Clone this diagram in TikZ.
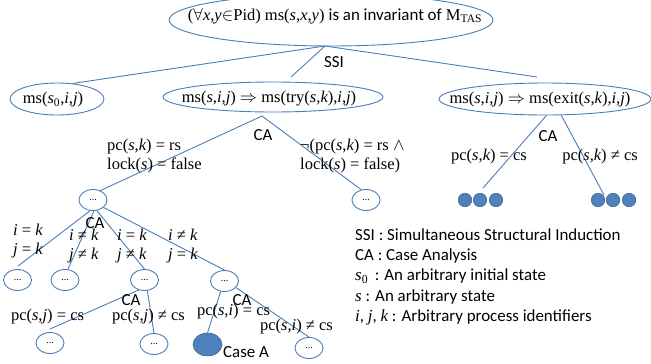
\documentclass[tikz,border=0pt]{standalone}
\usepackage{fontspec}
\setmainfont{Liberation Serif}
\newfontfamily\calibri{Carlito}
\usetikzlibrary{shapes.geometric}
\definecolor{lineblue}{RGB}{74,126,187}
\definecolor{dotblue}{RGB}{79,129,189}
\definecolor{dotedge}{RGB}{56,93,138}
\newcommand\varit[1]{{\rmfamily\itshape #1}}
\newcommand\dotstxt{{\fontsize{10}{12}\selectfont ...}}
\tikzset{
  ell/.style={draw=lineblue, line width=0.9pt, ellipse, inner sep=0pt},
  smallell/.style={ell, minimum width=28pt, minimum height=21pt},
  conn/.style={draw=lineblue, line width=0.9pt},
  bluedot/.style={circle, fill=dotblue, draw=dotedge, line width=0.5pt, minimum size=13.5pt, inner sep=0pt},
  sans/.style={font=\calibri\fontsize{16.9}{19}\selectfont},
  twoline/.style={anchor=west, align=left},
}
\begin{document}
\begin{tikzpicture}[x=1pt,y=-1pt, every node/.style={font=\fontsize{16.5}{19}\selectfont, inner sep=0pt}]
\useasboundingbox (0,0) rectangle (651,364);

% level 0
\node[ell, minimum width=324pt, minimum height=52pt] (top) at (331,20) {};
\node (toptxt) at (335,16) {($\forall$\varit{x},\varit{y}$\in$Pid) ms(\varit{s},\varit{x},\varit{y}) {\calibri\fontsize{16.9}{19}\selectfont is an invariant of} M\textsubscript{TAS}};

% level 1
\node[ell, minimum width=94pt, minimum height=32pt] (s0) at (57,99) {};
\node (s0txt) at (53,100) {ms(\varit{s}\textsubscript{0},\varit{i},\varit{j})};
\node[ell, minimum width=220pt, minimum height=30pt] (mid) at (273,97) {};
\node (midtxt) at (269,99) {ms(\varit{s},\varit{i},\varit{j}) $\Rightarrow$ ms(try(\varit{s},\varit{k}),\varit{i},\varit{j})};
\node[ell, minimum width=212pt, minimum height=32pt] (rgt) at (545,99) {};
\node (rgttxt) at (540,100) {ms(\varit{s},\varit{i},\varit{j}) $\Rightarrow$ ms(exit(\varit{s},\varit{k}),\varit{i},\varit{j})};

\coordinate (topb) at (325,46);
\coordinate (midend) at (291,77);
\coordinate (rgtend) at (537,77);
\draw[conn] (topb) -- (s0.45);
\draw[conn] (topb) -- (midend);
\draw[conn] (topb) -- (rgtend);
\node[sans] (ssi) at (334,62) {SSI};

% level 2 under mid
\coordinate (midapex) at (262,116);
\node[smallell] (l1) at (93,200) {\dotstxt};
\node[smallell] (r1) at (366,200) {\dotstxt};
\draw[conn] (midapex) -- (l1.52);
\draw[conn] (midapex) -- (r1.115);
\node[sans] (ca1) at (263,135) {CA};
\node[twoline] (lab1) at (107,156.5) {pc(\varit{s},\varit{k}) = rs\\lock(\varit{s}) = false};
\node[twoline] (lab2) at (300,156.5) {¬(pc(\varit{s},\varit{k}) = rs $\wedge$\\lock(\varit{s}) = false)};

% level 2 under right
\coordinate (d1end) at (483,188);
\coordinate (d2end) at (604,195);
\draw[conn] (rgt.-85) -- (d1end);
\draw[conn] (rgt.-45) -- (d2end);
\node[sans] (ca2) at (548,136) {CA};
\node (lab3) at (489,157) {pc(\varit{s},\varit{k}) = cs};
\node (lab4) at (600,157) {pc(\varit{s},\varit{k}) ≠ cs};
\node[bluedot] (da1) at (465,200) {};
\node[bluedot] (da2) at (480,200) {};
\node[bluedot] (da3) at (496,200) {};
\node[bluedot] (db1) at (598,200) {};
\node[bluedot] (db2) at (613,200) {};
\node[bluedot] (db3) at (629,200) {};

% level 3
\node[smallell] (c1) at (17.5,280) {\dotstxt};
\node[smallell] (c2) at (65,280) {\dotstxt};
\node[smallell] (c3) at (144.5,280) {\dotstxt};
\node[smallell] (c4) at (224.5,281) {\dotstxt};
\coordinate (c1end) at (18,266);
\draw[conn] (l1.-105) -- (c1end);
\draw[conn] (l1.-85) -- (c2.75);
\draw[conn] (l1.-70) -- (c3.north);
\draw[conn] (l1.-35) -- (c4.north);
\node[sans] (ca3) at (95,223) {CA};
\node[twoline] (e1) at (13,241.5) {\varit{i} = \varit{k}\\\varit{j} = \varit{k}};
\node[twoline] (e2) at (69,246.5) {\varit{i} ≠ \varit{k}\\\varit{j} ≠ \varit{k}};
\node[twoline] (e3) at (117,246.5) {\varit{i} = \varit{k}\\\varit{j} ≠ \varit{k}};
\node[twoline] (e4) at (168,246.5) {\varit{i} ≠ \varit{k}\\\varit{j} = \varit{k}};

% level 4
\node[smallell] (a) at (50,343) {\dotstxt};
\node[smallell] (b) at (154,344) {\dotstxt};
\node[ellipse, fill=dotblue, draw=dotedge, line width=0.5pt, minimum width=29pt, minimum height=23pt, inner sep=0pt] (casea) at (207.5,344.5) {};
\node[smallell] (d) at (309,348) {\dotstxt};
\coordinate (aend) at (50,329);
\draw[conn] (c3.-120) -- (aend);
\draw[conn] (c3.-75) -- (b.north);
\draw[conn] (c4.-110) -- (casea.north);
\draw[conn] (c4.-30) -- (d.north);
\node[sans] (ca4) at (131,300) {CA};
\node[sans] (ca5) at (242,300) {CA};
\node (f1) at (47.5,317) {pc(\varit{s},\varit{j}) = cs};
\node (f2) at (148.5,317) {pc(\varit{s},\varit{j}) ≠ cs};
\node (f3) at (233.5,312) {pc(\varit{s},\varit{i}) = cs};
\node (f4) at (296.5,327) {pc(\varit{s},\varit{i}) ≠ cs};
\node[sans, anchor=west] (caseatxt) at (223,352) {Case A};

% legend
\node[sans, anchor=west] (lg1) at (355,235) {SSI : Simultaneous Structural Induction};
\node[sans, anchor=west] (lg2) at (355,256) {CA : Case Analysis};
\node[sans, anchor=west] (lg3) at (355,276) {\varit{s}{\rmfamily\textsubscript{0}}\, : An arbitrary initial state};
\node[sans, anchor=west] (lg4) at (355,297) {\varit{s} : An arbitrary state};
\node[sans, anchor=west] (lg5) at (355,317) {\varit{i}, \varit{j}, \varit{k} : Arbitrary process identifiers};
\end{tikzpicture}
\end{document}
